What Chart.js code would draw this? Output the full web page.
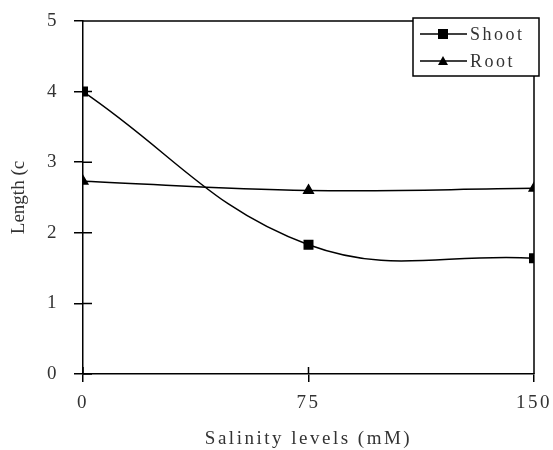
<!DOCTYPE html>
<html>
<head>
<meta charset="utf-8">
<script src="https://cdn.jsdelivr.net/npm/chart.js@4.4.0/dist/chart.umd.min.js"></script>
<style>
  html, body { margin: 0; padding: 0; background: #fff; }
  #wrap { width: 553px; height: 450px; }
</style>
</head>
<body>
<div id="wrap"><canvas id="mychart"></canvas></div>
<script>
// salinity levels (mM) and lengths
var salinity = [0, 75, 150];
var shootLen = [4.0, 1.83, 1.64];
var rootLen = [2.73, 2.6, 2.63];
var yTicks = [0, 1, 2, 3, 4, 5];

var SERIF = "'Liberation Serif', 'Times New Roman', serif";
var TXT = '#333';

function pts(vals) {
    var out = [];
    for (var i = 0; i < salinity.length; i++) out.push({x: salinity[i], y: vals[i]});
    return out;
}

// letter spacing like the scanned figure (y title is tighter)
var spacing = {
    id: 'spacing',
    afterLayout: function(chart) {
        var ys = chart.scales.y;
        if (ys && !ys._tight) {
            var orig = ys.drawTitle;
            ys.drawTitle = function() {
                var c = this.ctx, old = c.letterSpacing;
                c.letterSpacing = '0px';
                orig.apply(this, arguments);
                c.letterSpacing = old;
            };
            ys._tight = true;
        }
    },
    beforeDraw: function(chart) { chart.ctx.letterSpacing = '2.5px'; }
};

// box round the plot, ticks poking inside, and the legend box
var frame = {
    id: 'frame',
    afterDraw: function(chart) {
        var ctx = chart.ctx, a = chart.chartArea;
        var xs = chart.scales.x, ys = chart.scales.y;
        ctx.save();
        ctx.strokeStyle = '#000';
        ctx.lineWidth = 1.5;
        ctx.beginPath();
        ctx.moveTo(a.left, a.top); ctx.lineTo(a.right, a.top); ctx.lineTo(a.right, a.bottom);
        yTicks.forEach(function(v) {
            var py = ys.getPixelForValue(v);
            ctx.moveTo(a.left, py); ctx.lineTo(a.left + 9, py);
        });
        salinity.forEach(function(v) {
            var px = xs.getPixelForValue(v);
            ctx.moveTo(px, a.bottom); ctx.lineTo(px, a.bottom - 7);
        });
        ctx.stroke();

        // legend
        var bx = 413, by = 18, bw = 126, bh = 58;
        ctx.fillStyle = '#fff';
        ctx.fillRect(bx, by, bw, bh);
        ctx.strokeRect(bx, by, bw, bh);
        ctx.font = '18px ' + SERIF;
        ctx.letterSpacing = '2.5px';
        ctx.textBaseline = 'middle';
        chart.data.datasets.forEach(function(ds, i) {
            var cy = by + 16 + i * 27;
            ctx.strokeStyle = '#000';
            ctx.lineWidth = 1.5;
            ctx.beginPath(); ctx.moveTo(bx + 7, cy); ctx.lineTo(bx + 54, cy); ctx.stroke();
            ctx.fillStyle = '#000';
            ctx.beginPath();
            if (ds.pointStyle === 'rect') {
                ctx.rect(bx + 25, cy - 5, 10, 10);
            } else {
                ctx.moveTo(bx + 30, cy - 5); ctx.lineTo(bx + 35, cy + 4); ctx.lineTo(bx + 25, cy + 4); ctx.closePath();
            }
            ctx.fill();
            ctx.fillStyle = TXT;
            ctx.fillText(ds.label, bx + 57, cy + 1);
        });
        ctx.restore();
    }
};

var config = {
    type: 'line',
    data: {
        datasets: [{
            label: 'Shoot',
            data: pts(shootLen),
            borderColor: '#000',
            backgroundColor: '#000',
            borderWidth: 1.5,
            pointStyle: 'rect',
            pointRadius: 6,
            tension: 0.4
        }, {
            label: 'Root',
            data: pts(rootLen),
            borderColor: '#000',
            backgroundColor: '#000',
            borderWidth: 1.5,
            pointStyle: 'triangle',
            pointRadius: 5.5,
            tension: 0.4
        }]
    },
    options: {
        responsive: true,
        maintainAspectRatio: false,
        animation: false,
        layout: { padding: { top: 21, right: 19, left: 0, bottom: 0 } },
        plugins: { legend: { display: false }, tooltip: { enabled: false } },
        scales: {
            x: {
                type: 'linear', min: 0, max: 150,
                afterBuildTicks: function(s) { s.ticks = salinity.map(function(v) { return {value: v}; }); },
                afterFit: function(s) { s.height = 76; s.paddingLeft = 0; s.paddingRight = 0; },
                grid: { drawOnChartArea: false, color: '#000', lineWidth: 1.5, tickLength: 8 },
                border: { color: '#000', width: 1.5 },
                ticks: { color: TXT, font: { family: SERIF, size: 19 }, padding: 10, maxRotation: 0 },
                title: { display: true, text: 'Salinity levels (mM)', color: TXT,
                         font: { family: SERIF, size: 19 }, padding: { top: 0, bottom: 0 } }
            },
            y: {
                min: 0, max: 5,
                afterBuildTicks: function(s) { s.ticks = yTicks.map(function(v) { return {value: v}; }); },
                afterFit: function(s) { s.width = 83; s.paddingTop = 0; s.paddingBottom = 0; },
                grid: { drawOnChartArea: false, color: '#000', lineWidth: 1.5, tickLength: 9 },
                border: { color: '#000', width: 1.5 },
                ticks: { color: TXT, font: { family: SERIF, size: 19 }, padding: 15 },
                title: { display: true, text: 'Length (c', color: TXT,
                         font: { family: SERIF, size: 19 }, padding: { top: 8, bottom: 0 } }
            }
        }
    },
    plugins: [spacing, frame]
};

var ctx = document.getElementById('mychart').getContext('2d');
window.myLine = new Chart(ctx, config);
</script>
</body>
</html>
